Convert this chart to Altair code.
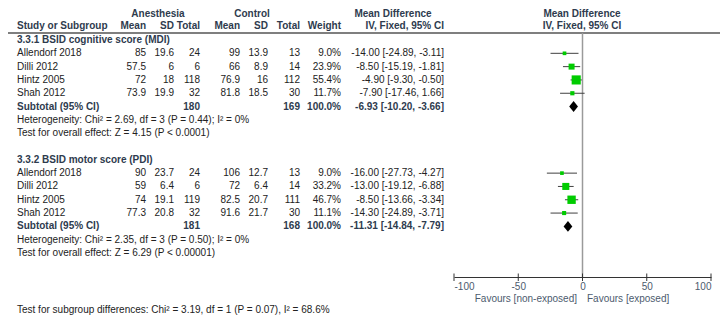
import altair as alt
import pandas as pd

FONT = "Liberation Sans"
BODY = "#222222"
HEAD = "#2e3b4e"
AXC = "#4d5b6e"

# ---------------- data ----------------
studies = ["Allendorf 2018", "Dilli 2012", "Hintz 2005", "Shah 2012"]
group_titles = ["3.3.1 BSID cognitive score (MDI)", "3.3.2 BSID motor score (PDI)"]

g1_anes_mean = [85, 57.5, 72, 73.9]
g1_anes_sd = [19.6, 6, 18, 19.9]
g1_anes_n = [24, 6, 118, 32]
g1_ctrl_mean = [99, 66, 76.9, 81.8]
g1_ctrl_sd = [13.9, 8.9, 16, 18.5]
g1_ctrl_n = [13, 14, 112, 30]
g1_weight = [9.0, 23.9, 55.4, 11.7]
g1_md = [-14.00, -8.50, -4.90, -7.90]
g1_lo = [-24.89, -15.19, -9.30, -17.46]
g1_hi = [-3.11, -1.81, -0.50, 1.66]
g1_total = [180, 169, -6.93, -10.20, -3.66]

g2_anes_mean = [90, 59, 74, 77.3]
g2_anes_sd = [23.7, 6.4, 19.1, 20.8]
g2_anes_n = [24, 6, 119, 32]
g2_ctrl_mean = [106, 72, 82.5, 91.6]
g2_ctrl_sd = [12.7, 6.4, 20.7, 21.7]
g2_ctrl_n = [13, 14, 111, 30]
g2_weight = [9.0, 33.2, 46.7, 11.1]
g2_md = [-16.00, -13.00, -8.50, -14.30]
g2_lo = [-27.73, -19.12, -13.66, -24.89]
g2_hi = [-4.27, -6.88, -3.34, -3.71]
g2_total = [181, 168, -11.31, -14.84, -7.79]

notes = [
    ["Heterogeneity: Chi\u00b2 = 2.69, df = 3 (P = 0.44); I\u00b2 = 0%",
     "Test for overall effect: Z = 4.15 (P < 0.0001)"],
    ["Heterogeneity: Chi\u00b2 = 2.35, df = 3 (P = 0.50); I\u00b2 = 0%",
     "Test for overall effect: Z = 6.29 (P < 0.00001)"],
]
subgroup_test = "Test for subgroup differences: Chi\u00b2 = 3.19, df = 1 (P = 0.07), I\u00b2 = 68.6%"
tick_values = [-100, -50, 0, 50, 100]

# ---------------- tables ----------------
groups = [
    (g1_anes_mean, g1_anes_sd, g1_anes_n, g1_ctrl_mean, g1_ctrl_sd, g1_ctrl_n,
     g1_weight, g1_md, g1_lo, g1_hi, g1_total),
    (g2_anes_mean, g2_anes_sd, g2_anes_n, g2_ctrl_mean, g2_ctrl_sd, g2_ctrl_n,
     g2_weight, g2_md, g2_lo, g2_hi, g2_total),
]


def f(v):
    return f"{v:g}"


def ci(m, l, h):
    return f"{m:.2f} [{l:.2f}, {h:.2f}]"


study_rows, sub_rows, head_rows, note_rows = [], [], [], []
r = 0
for gi, g in enumerate(groups):
    am, asd, an, cm, csd, cn, w, md, lo, hi, tot = g
    if gi > 0:
        r += 2
    head_rows.append({"r": r, "label": group_titles[gi]})
    for i, s in enumerate(studies):
        r += 1
        study_rows.append({
            "r": r, "label": s, "am": f(am[i]), "asd": f(asd[i]), "an": f(an[i]),
            "cm": f(cm[i]), "csd": f(csd[i]), "cn": f(cn[i]),
            "w": f"{w[i]:.1f}%", "ci": ci(md[i], lo[i], hi[i]),
            "weight": w[i], "md": md[i], "lo": lo[i], "hi": hi[i],
        })
    r += 1
    sub_rows.append({"r": r, "label": "Subtotal (95% CI)", "an": str(tot[0]),
                     "cn": str(tot[1]), "w": f"{sum(w):.1f}%",
                     "ci": ci(tot[2], tot[3], tot[4]),
                     "md": tot[2], "lo": tot[3], "hi": tot[4]})
    for n in notes[gi]:
        r += 1
        note_rows.append({"r": r, "label": n})

study_df = pd.DataFrame(study_rows)
sub_df = pd.DataFrame(sub_rows)
head_df = pd.DataFrame(head_rows)
note_df = pd.DataFrame(note_rows)
tick_df = pd.DataFrame({"t": tick_values})
zero_df = pd.DataFrame({"t": [0]})

# ---------------- scales ----------------
yscale = alt.Scale(domain=[0, 16], range=[40, 253])
xscale = alt.Scale(domain=[-100, 100], range=[454, 711])
xaxis = alt.Axis(values=tick_values, labelFlush=True, ticks=False, grid=False,
                 domain=True, domainColor="#333333", domainWidth=1, title=None,
                 labelFont=FONT, labelFontSize=10, labelColor=AXC, labelPadding=4,
                 labelExpr="'' + datum.value")
Y = alt.Y("r:Q", scale=yscale, axis=None)


def rowtext(df, field, x, align="right", bold=False, color=BODY):
    return alt.Chart(df).mark_text(
        align=align, baseline="middle", font=FONT, fontSize=10,
        fontWeight="bold" if bold else "normal", color=color
    ).encode(x=alt.value(x), y=Y, text=alt.Text(f"{field}:N"))


one = alt.Data(values=[{}])


def fixtext(t, x, y, align="left", bold=False, color=BODY):
    return alt.Chart(one).mark_text(
        text=t, align=align, baseline="middle", font=FONT, fontSize=10,
        fontWeight="bold" if bold else "normal", color=color
    ).encode(x=alt.value(x), y=alt.value(y))


cols = [("am", 146), ("asd", 174), ("an", 200), ("cm", 240), ("csd", 268),
        ("cn", 300), ("w", 341), ("ci", 444)]

layers = []
# header texts
layers += [
    fixtext("Anesthesia", 158, 14, "center", True, HEAD),
    fixtext("Control", 252, 14, "center", True, HEAD),
    fixtext("Mean Difference", 393, 14, "center", True, HEAD),
    fixtext("Mean Difference", 582, 14, "center", True, HEAD),
    fixtext("Study or Subgroup", 17, 26, "left", True, HEAD),
    fixtext("Mean", 146, 26, "right", True, HEAD),
    fixtext("SD", 174, 26, "right", True, HEAD),
    fixtext("Total", 200, 26, "right", True, HEAD),
    fixtext("Mean", 240, 26, "right", True, HEAD),
    fixtext("SD", 268, 26, "right", True, HEAD),
    fixtext("Total", 300, 26, "right", True, HEAD),
    fixtext("Weight", 341, 26, "right", True, HEAD),
    fixtext("IV, Fixed, 95% CI", 444, 26, "right", True, HEAD),
    fixtext("IV, Fixed, 95% CI", 582, 26, "center", True, HEAD),
    fixtext("Favours [non-exposed]", 577, 299, "right", False, AXC),
    fixtext("Favours [exposed]", 587, 299, "left", False, AXC),
    fixtext(subgroup_test, 17, 310, "left", False, BODY),
]
# header line
layers.append(alt.Chart(one).mark_rule(color="#555555", strokeWidth=1.5).encode(
    x=alt.value(8), x2=alt.value(720), y=alt.value(33)))
# zero line
layers.append(alt.Chart(zero_df).mark_rule(color="#9a9a9a", strokeWidth=1.5).encode(
    x=alt.X("t:Q", scale=xscale, axis=xaxis), y=alt.value(33), y2=alt.value(277)))
# axis ticks
layers.append(alt.Chart(tick_df).mark_rule(color="#333333", strokeWidth=1).encode(
    x=alt.X("t:Q", scale=xscale, axis=xaxis), y=alt.value(273.5), y2=alt.value(281)))

# row texts
layers.append(rowtext(head_df, "label", 17, "left", True, HEAD))
layers.append(rowtext(study_df, "label", 17, "left"))
for c, x in cols:
    layers.append(rowtext(study_df, c, x))
layers.append(rowtext(sub_df, "label", 17, "left", True, HEAD))
for c, x in [("an", 200), ("cn", 300), ("w", 341), ("ci", 444)]:
    layers.append(rowtext(sub_df, c, x, bold=True, color=HEAD))
layers.append(rowtext(note_df, "label", 17, "left"))

# CI lines
layers.append(alt.Chart(study_df).mark_rule(color="#404040", strokeWidth=1).encode(
    x=alt.X("lo:Q", scale=xscale, axis=xaxis), x2="hi:Q", y=Y))
# squares
layers.append(alt.Chart(study_df).mark_square(color="#00cc00", opacity=1, filled=True).encode(
    x=alt.X("md:Q", scale=xscale, axis=xaxis), y=Y,
    size=alt.Size("weight:Q", scale=alt.Scale(domain=[0, 100], range=[0, 150]), legend=None)))
# diamonds
layers.append(alt.Chart(sub_df).mark_point(
    shape="M0,-1L0.8,0L0,1L-0.8,0Z", filled=True, color="black", opacity=1, size=120
).encode(x=alt.X("md:Q", scale=xscale, axis=xaxis), y=Y))

chart = alt.layer(*layers).properties(
    width=728, height=277, autosize="none",
    padding={"left": 0, "top": 0, "right": 0, "bottom": 44},
    background="white",
).configure_view(stroke=None)

chart.save("out.html", embed_options={"renderer": "svg", "actions": False})
